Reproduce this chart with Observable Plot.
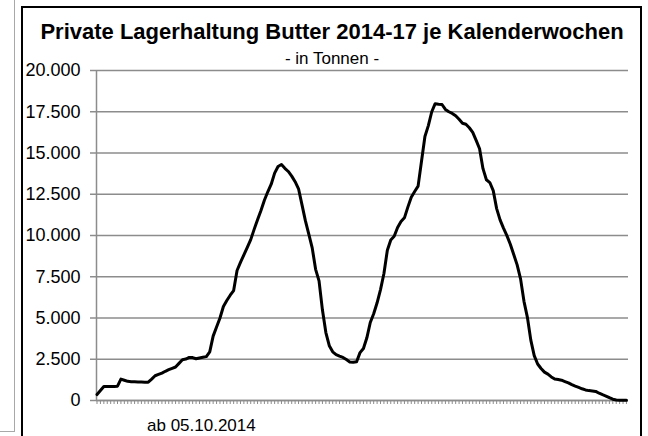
<!DOCTYPE html>
<html>
<head>
<meta charset="utf-8">
<script src="https://cdn.jsdelivr.net/npm/d3@7"></script>
<script src="https://cdn.jsdelivr.net/npm/@observablehq/plot@0.6"></script>
<style>
  html, body { margin: 0; padding: 0; background: #fff; }
  #wrap { position: relative; width: 648px; height: 436px; overflow: hidden; font-family: "Liberation Sans", Arial, sans-serif; color: #000; }
  .abs { position: absolute; }
  #side { left: 0; top: -2px; width: 14px; height: 433px; border-right: 1px solid #a8a8a8; border-bottom: 1px solid #a8a8a8; }
  #frame { left: 21px; top: 6px; width: 617px; height: 450px; border: 2px solid #000; }
  #title { left: 22px; width: 620px; top: 21px; text-align: center; font-weight: bold; font-size: 22px; line-height: 22px; white-space: nowrap; }
  #subtitle { left: 22px; width: 620px; top: 50px; text-align: center; font-size: 17px; line-height: 17px; }
  #xlabel { left: 147px; top: 417px; font-size: 17px; line-height: 17px; }
  #chart { left: 0; top: 60px; }
</style>
</head>
<body>
<div id="wrap">
  <div id="side" class="abs"></div>
  <div id="frame" class="abs"></div>
  <div id="chart" class="abs"></div>
  <div id="title" class="abs">Private Lagerhaltung Butter 2014-17 je Kalenderwochen</div>
  <div id="subtitle" class="abs">- in Tonnen -</div>
  <div id="xlabel" class="abs">ab 05.10.2014</div>
</div>
<script>
// Private Lagerhaltung Butter, Tonnen je Kalenderwoche ab 05.10.2014
const tonnen = [
  360, 600, 850, 850, 850, 850, 870, 1300, 1230, 1160,
  1140, 1130, 1120, 1120, 1110, 1110, 1300, 1500, 1580, 1660,
  1770, 1870, 1950, 2030, 2250, 2470, 2510, 2610, 2600, 2530,
  2580, 2620, 2660, 2950, 3900, 4450, 5000, 5700, 6060, 6380,
  6660, 7880, 8370, 8820, 9280, 9750, 10370, 10960, 11520, 12140,
  12650, 13110, 13780, 14180, 14300, 14070, 13880, 13600, 13260, 12830,
  11870, 10900, 10080, 9250, 7950, 7250, 5480, 4120, 3320, 2950,
  2780, 2690, 2610, 2480, 2340, 2320, 2350, 2900, 3150, 3800,
  4730, 5260, 5920, 6720, 7700, 9110, 9730, 9950, 10490, 10850,
  11070, 11720, 12320, 12670, 12990, 14500, 16000, 16660, 17500, 17990,
  17960, 17940, 17640, 17500, 17400, 17260, 17040, 16800, 16740, 16530,
  16250, 15770, 15260, 14050, 13380, 13210, 12720, 11630, 10950, 10450,
  9990, 9470, 8850, 8220, 7370, 6010, 5040, 3660, 2720, 2210,
  1940, 1720, 1600, 1430, 1300, 1270, 1230, 1150, 1070, 960,
  870, 790, 710, 640, 600, 580, 550, 440, 350, 270,
  170, 80, 30, 20, 20, 20
];
const wochen = tonnen.map((_, i) => i);
const yTicks = [0, 2500, 5000, 7500, 10000, 12500, 15000, 17500, 20000];

const data = wochen.map((w, i) => ({woche: w, tonnen: tonnen[i]}));
const deFormat = d => d3.format(",")(d).replace(/,/g, ".");
const xMin = -0.15, xMax = 155.6;

const chart = Plot.plot({
  width: 648,
  height: 376,
  marginLeft: 96,
  marginRight: 20,
  marginTop: 10,
  marginBottom: 36,
  style: {fontFamily: "'Liberation Sans', Arial, sans-serif", background: "transparent", color: "#000"},
  x: {domain: [xMin, xMax]},
  y: {domain: [0, 20000]},
  marks: [
    Plot.gridY({ticks: yTicks, stroke: "#8c8c8c", strokeOpacity: 1, strokeWidth: 1.5}),
    Plot.ruleX([xMin], {stroke: "#8c8c8c", strokeWidth: 1.5}),
    Plot.ruleY([0], {stroke: "#8c8c8c", strokeWidth: 1.5}),
    Plot.axisY({ticks: yTicks, tickFormat: deFormat, tickSize: 6, tickPadding: 10, fontSize: 18, stroke: "#8c8c8c", strokeWidth: 1.5, fill: "#000", label: null}),
    Plot.axisX({ticks: wochen, tickFormat: () => "", tickSize: 4, stroke: "#8c8c8c", strokeWidth: 1, label: null}),
    Plot.line(data, {x: "woche", y: "tonnen", stroke: "#000", strokeWidth: 3, strokeLinejoin: "round", strokeLinecap: "round"})
  ]
});
document.getElementById("chart").appendChild(chart);
</script>
</body>
</html>
